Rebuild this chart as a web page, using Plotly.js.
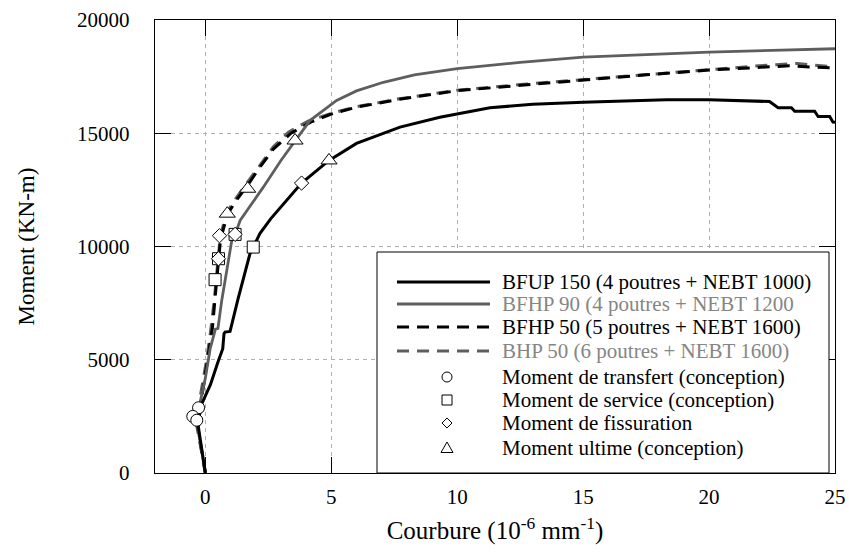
<!DOCTYPE html>
<html><head><meta charset="utf-8">
<script src="https://cdn.plot.ly/plotly-3.0.1.min.js"></script>
<style>body{margin:0;padding:0;background:#fff}#chart{width:849px;height:553px}</style>
</head><body><div id="chart"></div>
<script>
// BFUP 150 (4 poutres + NEBT 1000)
const bfup150_x = [0, -0.3, -0.14, 0.2, 0.5, 0.69, 0.74, 0.78, 0.98, 1.3, 1.77, 1.9, 2.17, 2.6, 3.1, 3.82, 4.91, 6.0, 7.73, 9.31, 11.3, 13.0, 15.0, 18.3, 20.0, 22.4, 22.74, 23.27, 23.4, 24.19, 24.33, 24.79, 24.92, 25];
const bfup150_y = [0, 2200, 3060, 3900, 4900, 5490, 6150, 6220, 6250, 7700, 9680, 9975, 10580, 11230, 11890, 12800, 13800, 14550, 15270, 15710, 16125, 16280, 16370, 16480, 16480, 16400, 16125, 16125, 15975, 15975, 15740, 15740, 15490, 15480];
// BFHP 90 (4 poutres + NEBT 1200)
const bfhp90_x = [0, -0.35, -0.25, 0, 0.19, 0.4, 0.5, 0.65, 1.05, 1.18, 1.38, 2.3, 3.0, 3.56, 4.15, 5.21, 6.0, 7.07, 8.3, 10, 12.5, 15, 17.5, 20, 22.5, 25];
const bfhp90_y = [0, 2300, 2900, 4200, 5490, 6350, 6380, 7620, 10270, 10530, 11150, 12620, 13800, 14680, 15560, 16450, 16870, 17250, 17580, 17850, 18130, 18360, 18480, 18580, 18660, 18730];
// BFHP 50 (5 poutres + NEBT 1600)
const bfhp50_x = [0, -0.35, -0.15, 0.1, 0.28, 0.4, 0.52, 0.6, 0.87, 1.2, 1.68, 2.1, 2.7, 3.4, 4.2, 5.0, 6.0, 7.7, 10, 12.5, 15, 17.5, 20, 22, 23.2, 24, 25];
const bfhp50_y = [0, 2350, 3300, 5000, 6400, 7900, 9300, 10300, 11400, 12000, 12700, 13400, 14300, 15000, 15500, 15850, 16150, 16500, 16880, 17120, 17350, 17580, 17790, 17900, 17980, 17930, 17880];
// BHP 50 (6 poutres + NEBT 1600)
const bhp50_x = [0, -0.4, -0.2, 0.05, 0.2, 0.35, 0.5, 0.6, 0.85, 1.2, 1.65, 2.1, 2.7, 3.3, 4.1, 5.0, 6.0, 7.7, 10, 12.5, 15, 17.5, 20, 22, 23.5, 24.2, 25];
const bhp50_y = [0, 2450, 3400, 5000, 6200, 7600, 9400, 10500, 11500, 12100, 12800, 13500, 14400, 15050, 15550, 15880, 16170, 16520, 16900, 17150, 17370, 17610, 17830, 17980, 18080, 18000, 17920];
// design moments
const transfert_x = [-0.27, -0.5, -0.34];
const transfert_y = [2880, 2500, 2330];
const service_x = [1.9, 1.18, 0.385, 0.52];
const service_y = [9975, 10535, 8535, 9460];
const fissuration_x = [3.82, 1.18, 0.52, 0.56];
const fissuration_y = [12800, 10535, 9460, 10476];
const ultime_x = [4.91, 3.56, 0.87, 1.68];
const ultime_y = [13800, 14680, 11450, 12550];

const legendLabels = ['BFUP 150 (4 poutres + NEBT 1000)', 'BFHP 90 (4 poutres + NEBT 1200', 'BFHP 50 (5 poutres + NEBT 1600)', 'BHP 50 (6 poutres + NEBT 1600)', 'Moment de transfert (conception)', 'Moment de service (conception)', 'Moment de fissuration', 'Moment ultime (conception)'];

const FONT = 'Liberation Serif, Times New Roman, serif';
const GRAY = '#5e5e5e';
const GRAYTXT = '#858585';

function lineTrace(x, y, name, color, dash, width) {
  return {x: x, y: y, name: name, type: 'scatter', mode: 'lines', showlegend: false,
    line: {color: color, width: width, dash: dash}};
}
function markTrace(x, y, name, symbol, size) {
  return {x: x, y: y, name: name, type: 'scatter', mode: 'markers', showlegend: false,
    marker: {symbol: symbol, size: size, color: '#ffffff', line: {color: '#000000', width: 1}}};
}

const traces = [
  lineTrace(bhp50_x, bhp50_y, legendLabels[3], GRAY, '12px,8px', 3),
  lineTrace(bfhp50_x, bfhp50_y, legendLabels[2], '#000000', '12px,8px', 3),
  lineTrace(bfhp90_x, bfhp90_y, legendLabels[1], GRAY, 'solid', 2.8),
  lineTrace(bfup150_x, bfup150_y, legendLabels[0], '#000000', 'solid', 3),
  markTrace(transfert_x, transfert_y, legendLabels[4], 'circle', 12),
  markTrace(service_x, service_y, legendLabels[5], 'square', 12),
  markTrace(fissuration_x, fissuration_y, legendLabels[6], 'diamond', 11),
  markTrace(ultime_x, ultime_y, legendLabels[7], 'triangle-up', 14)
];

// manual legend (pixel layout converted to paper coords)
const PL = 155, PR = 835, PT = 20, PB = 473;
const px = p => (p - PL) / (PR - PL);
const py = p => (PB - p) / (PB - PT);
const shapes = [];
const annotations = [];
shapes.push({type: 'rect', xref: 'paper', yref: 'paper', x0: px(377), x1: px(829), y0: py(473), y1: py(252),
  line: {color: '#000', width: 1}, fillcolor: '#fff', layer: 'above'});
const rowsY = [282, 304, 327, 351, 377, 400, 423, 448];
const lineStyles = [['#000', 'solid', 3], [GRAY, 'solid', 2.8], ['#000', '12px,8px', 3], [GRAY, '12px,8px', 3]];
for (let i = 0; i < 4; i++) {
  shapes.push({type: 'line', xref: 'paper', yref: 'paper', x0: px(397), x1: px(490), y0: py(rowsY[i]), y1: py(rowsY[i]),
    line: {color: lineStyles[i][0], dash: lineStyles[i][1], width: lineStyles[i][2]}, layer: 'above'});
}
const mx = px(447);
const symStyle = {xref: 'paper', yref: 'paper', xsizemode: 'pixel', ysizemode: 'pixel', xanchor: mx,
  line: {color: '#000', width: 1}, fillcolor: '#fff', layer: 'above'};
shapes.push(Object.assign({type: 'circle', yanchor: py(rowsY[4]), x0: -5, x1: 5, y0: -5, y1: 5}, symStyle));
shapes.push(Object.assign({type: 'rect', yanchor: py(rowsY[5]), x0: -5, x1: 5, y0: -5, y1: 5}, symStyle));
shapes.push(Object.assign({type: 'path', yanchor: py(rowsY[6]), path: 'M0,-5L5,0L0,5L-5,0Z'}, symStyle));
shapes.push(Object.assign({type: 'path', yanchor: py(rowsY[7]), path: 'M-6,-4.5L6,-4.5L0,6Z'}, symStyle));
for (let i = 0; i < 8; i++) {
  annotations.push({xref: 'paper', yref: 'paper', x: px(500), y: py(rowsY[i]), xanchor: 'left', yanchor: 'middle',
    text: legendLabels[i], showarrow: false,
    font: {family: FONT, size: 21, color: (i === 1 || i === 3) ? GRAYTXT : '#000'}});
}

const axisCommon = {
  showline: true, linecolor: '#000', linewidth: 1.3, mirror: 'ticks',
  ticks: 'inside', ticklen: 16, tickcolor: '#000', tickwidth: 1,
  showgrid: true, gridcolor: '#b0b0b0', gridwidth: 1, griddash: '4px,4px',
  zeroline: false, tickfont: {family: FONT, size: 21, color: '#000'}
};

const layout = {
  width: 849, height: 553,
  margin: {l: PL, r: 849 - PR, t: PT, b: 553 - PB},
  paper_bgcolor: '#fff', plot_bgcolor: '#fff',
  showlegend: false,
  font: {family: FONT, size: 21, color: '#000'},
  xaxis: Object.assign({}, axisCommon, {range: [-2, 25], tickvals: [0, 5, 10, 15, 20, 25], ticklabelstandoff: 4,
    title: {text: 'Courbure (10<sup>-6</sup> mm<sup>-1</sup>)', font: {family: FONT, size: 25, color: '#000'}, standoff: 14}}),
  yaxis: Object.assign({}, axisCommon, {range: [0, 20000], tickvals: [0, 5000, 10000, 15000, 20000], tickformat: 'd', ticklabelstandoff: 20,
    title: {text: 'Moment (KN-m)', font: {family: FONT, size: 23, color: '#000'}, standoff: 36}}),
  shapes: shapes,
  annotations: annotations
};

Plotly.newPlot('chart', traces, layout, {staticPlot: true, displayModeBar: false});
</script>
</body></html>
